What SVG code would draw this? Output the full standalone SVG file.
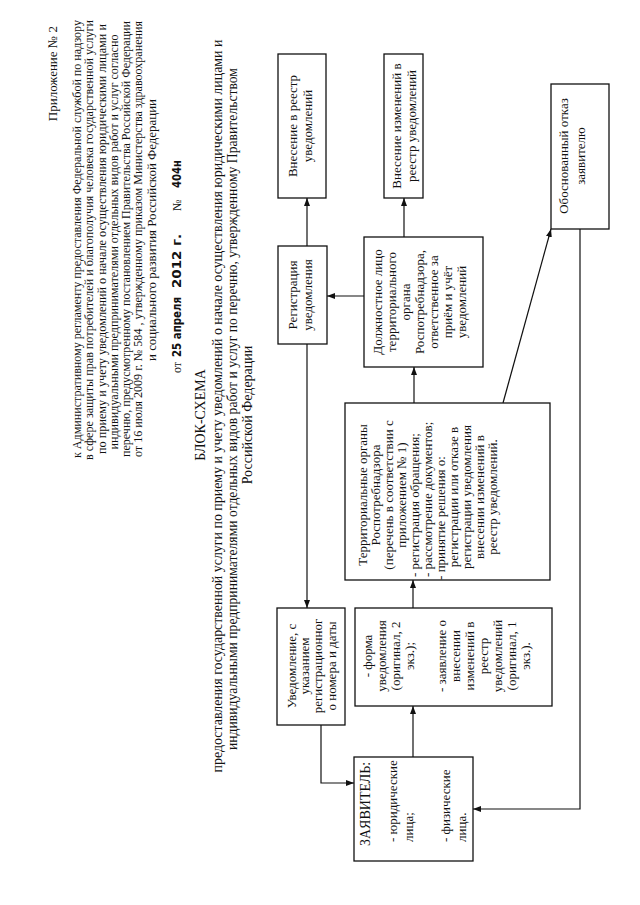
<svg xmlns="http://www.w3.org/2000/svg" width="640" height="905" viewBox="0 0 640 905">
<style>
text{font-family:"Liberation Serif","Times New Roman",serif;fill:#111;}
.b{fill:#fff;stroke:#111;stroke-width:1.3;}
.c{fill:none;stroke:#111;stroke-width:1.2;}
.h{font-size:12px;text-anchor:middle}
.n{font-size:13px;text-anchor:middle}
.l{font-size:13px;text-anchor:start}
.s{font-size:14px;text-anchor:middle}
.hw{font-family:"DejaVu Sans",sans-serif;font-weight:bold;font-size:12px}
</style>
<defs>
<marker id="ar" markerWidth="8" markerHeight="6" refX="8" refY="3" orient="auto" markerUnits="userSpaceOnUse"><path d="M0,0 L8,3 L0,6 z" fill="#111"/></marker>
</defs>
<rect width="640" height="905" fill="#fff"/>

<g id="header" transform="rotate(-90)">
<text x="-26" y="57" font-size="13" text-anchor="end">Приложение № 2</text>
<text class="h" x="-239" y="81" textLength="438" lengthAdjust="spacingAndGlyphs">к Административному регламенту предоставления Федеральной службой по надзору</text>
<text class="h" x="-240" y="93" textLength="440" lengthAdjust="spacingAndGlyphs">в сфере защиты прав потребителей и благополучия человека государственной услуги</text>
<text class="h" x="-239" y="105.5" textLength="430" lengthAdjust="spacingAndGlyphs">по приему и учету уведомлений о начале осуществления юридическими лицами и</text>
<text class="h" x="-242" y="118" textLength="415" lengthAdjust="spacingAndGlyphs">индивидуальными предпринимателями отдельных видов работ и услуг согласно</text>
<text class="h" x="-239" y="130" textLength="436" lengthAdjust="spacingAndGlyphs">перечню, предусмотренному постановлением Правительства Российской Федерации</text>
<text class="h" x="-239" y="142" textLength="436" lengthAdjust="spacingAndGlyphs">от 16 июля 2009 г. № 584 , утвержденному приказом Министерства здравоохранения</text>
<text class="h" x="-230" y="156" textLength="262" lengthAdjust="spacingAndGlyphs">и социального развития Российской Федерации</text>
<text x="-373" y="181" font-size="12">от</text>
<text class="hw" x="-357" y="181" textLength="60" lengthAdjust="spacingAndGlyphs">25 апреля</text>
<text class="hw" x="-288" y="181" textLength="54" lengthAdjust="spacingAndGlyphs">2012 г.</text>
<text x="-211" y="181" font-size="12">№</text>
<text class="hw" x="-188" y="181" textLength="28" lengthAdjust="spacingAndGlyphs">404н</text>
<text class="s" x="-415" y="205">БЛОК-СХЕМА</text>
<text class="s" x="-406" y="222" textLength="733" lengthAdjust="spacingAndGlyphs">предоставления государственной услуги по приему и учету уведомлений о начале осуществления юридическими лицами и</text>
<text class="s" x="-409" y="237" textLength="682" lengthAdjust="spacingAndGlyphs">индивидуальными предпринимателями отдельных видов работ и услуг по перечню, утвержденному Правительством</text>
<text class="s" x="-415" y="252">Российской Федерации</text>
</g>

<g id="connectors">
<path class="c" d="M307,246 V198" marker-end="url(#ar)"/>
<path class="c" d="M404,237 V198" marker-end="url(#ar)"/>
<path class="c" d="M364,296 H327" marker-end="url(#ar)"/>
<path class="c" d="M414,403 V367" marker-end="url(#ar)"/>
<path class="c" d="M503,403 L551,229" marker-end="url(#ar)"/>
<path class="c" d="M307,344 V608" marker-end="url(#ar)"/>
<path class="c" d="M321,725 V783 H354" marker-end="url(#ar)"/>
<path class="c" d="M413,757 V706" marker-end="url(#ar)"/>
<path class="c" d="M413,608 V580" marker-end="url(#ar)"/>
<path class="c" d="M580,229 V809 H473" marker-end="url(#ar)"/>
</g>

<g id="vnesenie">
<rect class="b" x="278" y="54" width="48" height="144"/>
<g transform="rotate(-90)">
<text class="n" x="-126" y="297">Внесение в реестр</text>
<text class="n" x="-126" y="312">уведомлений</text>
</g>
</g>

<g id="vnesenie-izm">
<rect class="b" x="384" y="54" width="39" height="144"/>
<g transform="rotate(-90)">
<text class="n" x="-126" y="401">Внесение изменений в</text>
<text class="n" x="-126" y="416">реестр уведомлений</text>
</g>
</g>

<g id="otkaz">
<rect class="b" x="551" y="84" width="58" height="145"/>
<g transform="rotate(-90)">
<text class="n" x="-156" y="568">Обоснованный отказ</text>
<text class="n" x="-156" y="585" font-size="11">заявителю</text>
</g>
</g>

<g id="registraciya">
<rect class="b" x="278" y="246" width="49" height="98"/>
<g transform="rotate(-90)">
<text class="n" x="-295" y="297">Регистрация</text>
<text class="n" x="-295" y="312">уведомления</text>
</g>
</g>

<g id="dolzhnostnoe">
<rect class="b" x="364" y="237" width="119" height="130"/>
<g transform="rotate(-90)">
<text class="n" x="-302" y="382">Должностное лицо</text>
<text class="n" x="-302" y="396">территориального</text>
<text class="n" x="-302" y="410">органа</text>
<text class="n" x="-302" y="424">Роспотребнадзора,</text>
<text class="n" x="-302" y="438">ответственное за</text>
<text class="n" x="-302" y="452">приём и учёт</text>
<text class="n" x="-302" y="466">уведомлений</text>
</g>
</g>

<g id="territorialnye">
<rect class="b" x="345" y="403" width="205" height="177"/>
<g transform="rotate(-90)" font-size="12.5">
<text class="n" x="-495" y="367" font-size="12.5">Территориальные органы</text>
<text class="n" x="-495" y="380" font-size="12.5">Роспотребнадзора</text>
<text class="n" x="-495" y="393" font-size="12.5">(перечень в соответствии с</text>
<text class="n" x="-495" y="406" font-size="12.5">приложением № 1)</text>
<text class="l" x="-577" y="419" font-size="12.5">- регистрация обращения;</text>
<text class="l" x="-577" y="432" font-size="12.5">- рассмотрение документов;</text>
<text class="n" x="-518" y="445" font-size="12.5">- принятие решения о:</text>
<text class="n" x="-497" y="458" font-size="12.5">регистрации или отказе в</text>
<text class="n" x="-497" y="471" font-size="12.5">регистрации уведомления</text>
<text class="n" x="-497" y="484" font-size="12.5">внесении изменений в</text>
<text class="n" x="-497" y="497" font-size="12.5">реестр уведомлений.</text>
</g>
</g>

<g id="uvedomlenie">
<rect class="b" x="277" y="608" width="68" height="117"/>
<g transform="rotate(-90)">
<text class="n" x="-666" y="296">Уведомление, с</text>
<text class="n" x="-666" y="309">указанием</text>
<text class="n" x="-666" y="322">регистрационног</text>
<text class="n" x="-666" y="336">о номера и даты</text>
</g>
</g>

<g id="dokumenty">
<rect class="b" x="355" y="608" width="197" height="98"/>
<g transform="rotate(-90)">
<text class="n" x="-656" y="372">- форма</text>
<text class="n" x="-656" y="386">уведомления</text>
<text class="n" x="-656" y="400">(оригинал, 2</text>
<text class="n" x="-656" y="414">экз.);</text>
<text class="n" x="-656" y="446">- заявление о</text>
<text class="n" x="-656" y="460">внесении</text>
<text class="n" x="-656" y="474">изменений в</text>
<text class="n" x="-656" y="488">реестр</text>
<text class="n" x="-656" y="502">уведомлений</text>
<text class="n" x="-656" y="516">(оригинал, 1</text>
<text class="n" x="-656" y="530">экз.).</text>
</g>
</g>

<g id="zayavitel">
<rect class="b" x="354" y="757" width="119" height="104"/>
<g transform="rotate(-90)">
<text x="-846" y="370" font-size="14">ЗАЯВИТЕЛЬ:</text>
<text class="l" x="-842" y="397">- юридические</text>
<text class="l" x="-842" y="413">лица;</text>
<text class="l" x="-842" y="450">- физические</text>
<text class="l" x="-842" y="466">лица.</text>
</g>
</g>
</svg>
